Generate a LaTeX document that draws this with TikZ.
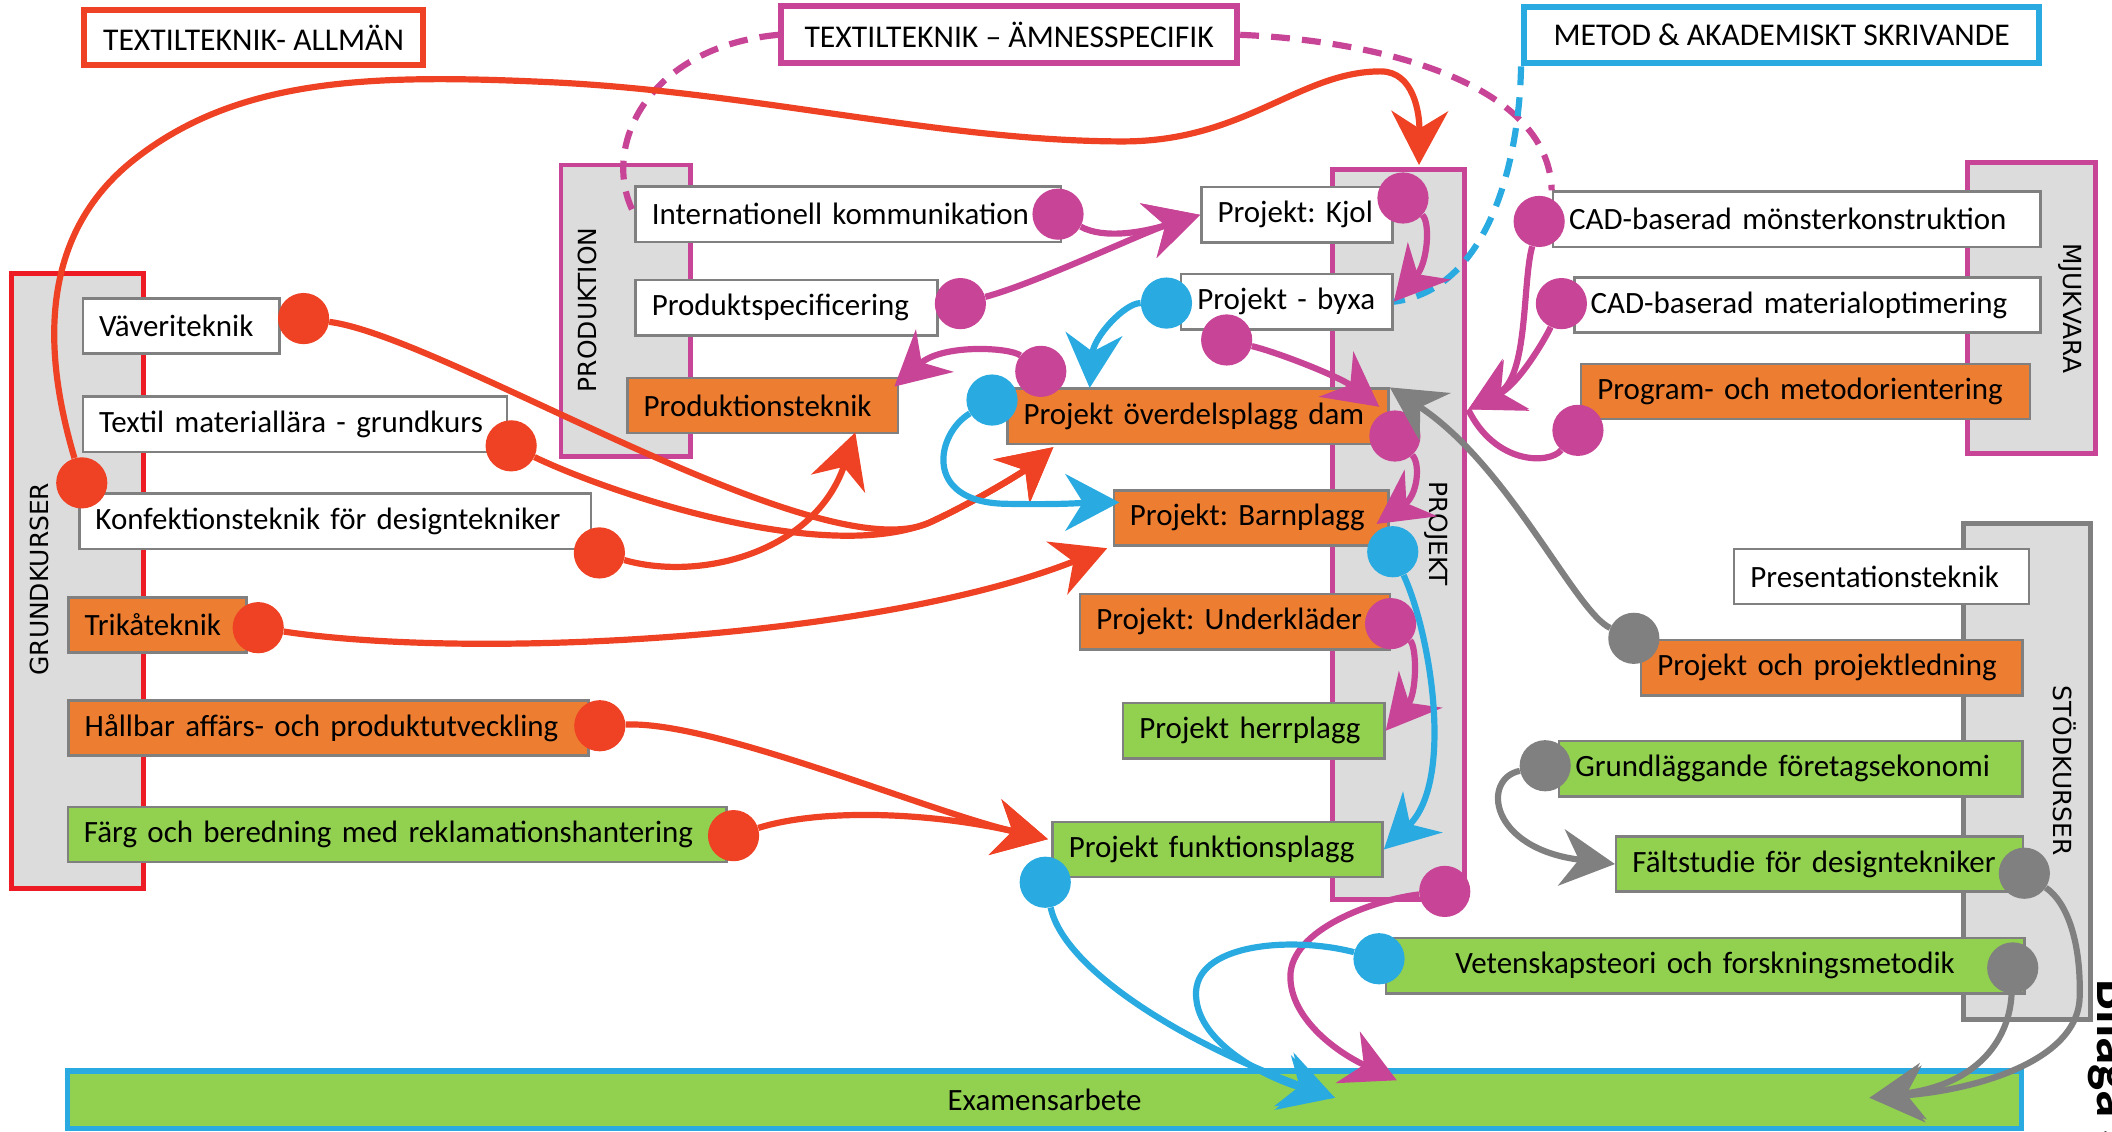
\documentclass[tikz,border=0pt]{standalone}
\usepackage{fontspec}
\setmainfont{Carlito}
\newfontfamily\barfont{DejaVu Sans}
\usetikzlibrary{arrows.meta}
\frenchspacing

\definecolor{cred}{RGB}{239,65,35}
\definecolor{cgrund}{RGB}{237,28,36}
\definecolor{cmag}{RGB}{199,68,150}
\definecolor{cblue}{RGB}{41,171,226}
\definecolor{cgray}{RGB}{128,128,128}
\definecolor{corange}{RGB}{237,125,49}
\definecolor{cgreen}{RGB}{146,208,80}
\definecolor{cbar}{RGB}{220,220,220}
\definecolor{cframe}{RGB}{128,128,128}

\tikzset{
  course/.style={draw=cframe, line width=1.8pt, anchor=west, minimum height=41pt,
    inner xsep=12pt, inner ysep=0pt, text width=#1, align=left,
    font=\fontsize{23}{26}\selectfont},
  header/.style={draw=#1, line width=4.5pt, fill=white, inner sep=0pt,
    font=\fontsize{23.5}{26}\selectfont},
  bar/.style={draw=#1, line width=3.7pt, fill=cbar, inner sep=0pt},
  barlabel/.style={font=\barfont\fontsize{18.5}{20}\selectfont, inner sep=0pt},
  knob/.style={circle, fill=#1, minimum size=38pt, inner sep=0pt},
  wire/.style={draw=#1, line width=4.6pt},
  arr/.style={wire=#1, -{Stealth[length=40pt, width=42pt, inset=13pt]}},
  dashwire/.style={wire=#1, dash pattern=on 14pt off 9pt}
}

\begin{document}
\begin{tikzpicture}[x=1pt,y=-1pt]
\useasboundingbox (0,0) rectangle (1568,840);

\draw (57.5,431.5) node[bar=cgrund, minimum width=98pt, minimum height=457pt] (grund) {};
\draw (464.75,230.75) node[bar=cmag, minimum width=96.5pt, minimum height=216.5pt] (prod) {};
\draw (1038,397) node[bar=cmag, minimum width=98pt, minimum height=542pt] (proj) {};
\draw (1508.5,229) node[bar=cmag, minimum width=95pt, minimum height=216pt] (mjuk) {};
\draw (1505,573) node[bar=cgray, minimum width=94pt, minimum height=368pt] (stod) {};

\draw (29,430) node[barlabel, rotate=90] (lgrund) {GRUNDKURSER};
\draw (436,230) node[barlabel, rotate=90] (lprod) {PRODUKTION};
\draw (1066,396) node[barlabel, rotate=-90] (lproj) {PROJEKT};
\draw (1537,229) node[barlabel, rotate=-90] (lmjuk) {MJUKVARA};
\draw (1533,572) node[barlabel, rotate=-90] (lstod) {STÖDKURSER};

\draw (188.25,28) node[header=cred, minimum width=251.5pt, minimum height=41pt] (h1) {TEXTILTEKNIK- ALLMÄN};
\draw (749.25,25.85) node[header=cmag, minimum width=338.5pt, minimum height=42.3pt] (h2) {TEXTILTEKNIK – ÄMNESSPECIFIK};
\draw (1322.75,26) node[header=cblue, minimum width=382.5pt, minimum height=42pt] (h3) {METOD \& AKADEMISKT SKRIVANDE};

\draw (60.7,242) node[course=122pt, fill=white] (vav) {Väveriteknik};
\draw (60.7,315) node[course=291pt, fill=white] (tmat) {Textil materiallära - grundkurs};
\draw (58,387) node[course=356pt, fill=white] (konf) {Konfektionsteknik för designtekniker};
\draw (50,464) node[course=108pt, fill=corange] (trika) {Trikåteknik};
\draw (50,540.5) node[course=362pt, fill=corange] (hallbar) {Hållbar affärs- och produktutveckling};
\draw (49.4,619.5) node[course=465pt, fill=cgreen] (farg) {Färg och beredning med reklamationshantering};

\draw (471,159) node[course=292pt, fill=white] (intk) {Internationell kommunikation};
\draw (471,228.5) node[course=200pt, fill=white] (pspec) {Produktspecificering};
\draw (465,301) node[course=177pt, fill=corange] (ptek) {Produktionsteknik};

\draw (891,159.5) node[course=118pt, fill=white] (kjol) {Projekt: Kjol};
\draw (876,224) node[course=133pt, fill=white] (byxa) {Projekt - byxa};
\draw (747,309) node[course=259pt, fill=corange] (overdel) {Projekt överdelsplagg dam};
\draw (826,384.5) node[course=180pt, fill=corange] (barn) {Projekt: Barnplagg};
\draw (801,461.6) node[course=206pt, fill=corange] (under) {Projekt: Underkläder};
\draw (833,542.5) node[course=170pt, fill=cgreen] (herr) {Projekt herrplagg};
\draw (780.6,630.7) node[course=221pt, fill=cgreen] (funk) {Projekt funktionsplagg};

\draw (1152,162.7) node[course=338pt, fill=white] (cadm) {CAD-baserad mönsterkonstruktion};
\draw (1168,226.5) node[course=322pt, fill=white] (cado) {CAD-baserad materialoptimering};
\draw (1173,290.6) node[course=309pt, fill=corange] (prog) {Program- och metodorientering};

\draw (1286.6,428) node[course=195pt, fill=white] (pres) {Presentationsteknik};
\draw (1217.6,495.8) node[course=259pt, fill=corange] (pled) {Projekt och projektledning};
\draw (1156.6,570.7) node[course=320pt, fill=cgreen] (fek) {Grundläggande företagsekonomi};
\draw (1199,641.5) node[course=278pt, fill=cgreen] (falt) {Fältstudie för designtekniker};
\draw (1028,717) node[course=450pt, fill=cgreen, align=center] (vet) {Vetenskapsteori och forskningsmetodik};

\draw (775.5,816.5) node[draw=cblue, line width=4pt, fill=cgreen, minimum width=1451pt, minimum height=43pt, inner sep=0pt, font=\fontsize{23}{26}\selectfont] (exam) {Examensarbete};

\draw (1557.5,727) node[rotate=-90, anchor=base west, inner sep=0pt, font=\bfseries\fontsize{41}{41}\selectfont] (bilaga) {Bilaga 3};

\node[knob=cred] (dG) at (60.7,358.5) {};
\node[knob=cred] (dV) at (225.4,236.5) {};
\node[knob=cred] (dT) at (379.5,331) {};
\node[knob=cred] (dK) at (445,410.5) {};
\node[knob=cred] (dTrika) at (191.7,466) {};
\node[knob=cred] (dHall) at (445.3,538.8) {};
\node[knob=cred] (dFarg) at (544.6,620.4) {};

\node[knob=cmag] (dIntk) at (785.5,159) {};
\node[knob=cmag] (dPspec) at (713,225.4) {};
\node[knob=cmag] (dPabove) at (772.7,275.7) {};
\node[knob=cmag] (dKjol) at (1041.6,147) {};
\node[knob=cmag] (dByxaB) at (910.7,252.4) {};
\node[knob=cmag] (dOverR) at (1035.6,323.7) {};
\node[knob=cmag] (dUnder) at (1032.4,463) {};
\node[knob=cmag] (dProjB) at (1072.6,661.8) {};
\node[knob=cmag] (dCadm) at (1142.7,164.4) {};
\node[knob=cmag] (dCado) at (1159.2,225.4) {};
\node[knob=cmag] (dProg) at (1171.5,319.5) {};

\node[knob=cblue] (dByxaL) at (866,225) {};
\node[knob=cblue] (dOverL) at (736.5,297) {};
\node[knob=cblue] (dBarnR) at (1034,409.6) {};
\node[knob=cblue] (dFunk) at (776,655) {};
\node[knob=cblue] (dVetL) at (1023.8,711.8) {};

\node[knob=cgray] (dPled) at (1213,473.9) {};
\node[knob=cgray] (dFek) at (1147.2,568.5) {};
\node[knob=cgray] (dFalt) at (1502.9,648.3) {};
\node[knob=cgray] (dVetR) at (1494.3,718.6) {};

\coordinate (tProj) at (1053.5,122.5);
\coordinate (tOver) at (782,332);
\coordinate (tPtek) at (635,321);
\coordinate (tBarnR) at (822,407);
\coordinate (tFunk) at (778,623);
\coordinate (tPtekM) at (664,287);
\coordinate (tOverM) at (1024,302);
\coordinate (tBarnM) at (1022,389);
\coordinate (tExamM) at (1037,802);
\coordinate (tMj) at (1090,304);
\coordinate (tOverB) at (809,288);
\coordinate (tBarnB) at (831,373);
\coordinate (tExamB) at (991,815);
\coordinate (tExamG) at (1388,815);

\draw[dashwire=cmag] (h2.west) .. controls (480,35) and (445,110) .. (intk.west);
\draw[dashwire=cmag] (h2.east) .. controls (1020,30) and (1150,60) .. (cadm.north west);
\draw[dashwire=cblue] (h3.south west) .. controls (1128,120) and (1105,215) .. (byxa.east);

\draw[arr=cred] (dG) .. controls (37,278) and (21,181) .. (99,119) .. controls (177,57) and (278,55) .. (408,61)
   .. controls (558,68) and (700,105) .. (834,105) .. controls (924,105) and (965,53) .. (1025,53)
   .. controls (1050,53) and (1054,85) .. (tProj);
\draw[arr=cred] (dV) .. controls (330,250) and (608,425) .. (690,388) .. controls (725,372) and (760,350) .. (tOver);
\draw[arr=cred] (dT) .. controls (450,365) and (610,420) .. (690,388) .. controls (725,372) and (760,350) .. (tOver);
\draw[arr=cred] (dK) .. controls (520,432) and (605,410) .. (tPtek);
\draw[arr=cred] (dTrika) .. controls (350,490) and (650,475) .. (tBarnR);
\draw[arr=cred] (dHall) .. controls (530,535) and (690,603) .. (tFunk);
\draw[arr=cred] (dFarg) .. controls (610,600) and (690,603) .. (tFunk);

\draw[arr=cmag] (dIntk) .. controls (820,178) and (850,172) .. (kjol.west);
\draw[arr=cmag] (dPspec) .. controls (770,210) and (850,172) .. (kjol.west);
\draw[arr=cmag] (dKjol) .. controls (1062,165) and (1060,195) .. (byxa.east);
\draw[arr=cmag] (dPabove) .. controls (750,258) and (700,255) .. (tPtekM);
\draw[arr=cmag] (dByxaB) .. controls (950,262) and (995,280) .. (tOverM);
\draw[arr=cmag] (dOverR) .. controls (1055,345) and (1052,368) .. (tBarnM);
\draw[arr=cmag] (dUnder) .. controls (1052,480) and (1052,515) .. (herr.east);
\draw[arr=cmag] (dProjB) .. controls (1020,668) and (958,690) .. (958,725) .. controls (958,755) and (990,780) .. (tExamM);
\draw[arr=cmag] (dCadm) .. controls (1130,210) and (1135,280) .. (tMj);
\draw[arr=cmag] (dCado) .. controls (1148,250) and (1128,285) .. (tMj);
\draw[wire=cmag] (dProg) .. controls (1150,345) and (1110,345) .. (tMj);

\draw[arr=cblue] (dByxaL) .. controls (835,225) and (812,250) .. (tOverB);
\draw[arr=cblue] (dOverL) .. controls (695,322) and (685,372) .. (745,374) .. controls (790,375) and (810,373) .. (tBarnB);
\draw[arr=cblue] (dBarnR) .. controls (1062,470) and (1080,580) .. (funk.east);
\draw[arr=cblue] (dFunk) .. controls (790,720) and (880,775) .. (tExamB);
\draw[arr=cblue] (dVetL) .. controls (960,695) and (885,700) .. (888,740) .. controls (890,775) and (940,800) .. (tExamB);

\draw[arr=cgray] (dPled) .. controls (1170,455) and (1120,345) .. (overdel.north east);
\draw[arr=cgray] (dFek) .. controls (1100,578) and (1105,630) .. (falt.west);
\draw[arr=cgray] (dFalt) .. controls (1535,670) and (1545,700) .. (1544,740) .. controls (1543,790) and (1460,810) .. (tExamG);
\draw[arr=cgray] (dVetR) .. controls (1492,770) and (1470,805) .. (tExamG);

\end{tikzpicture}
\end{document}
